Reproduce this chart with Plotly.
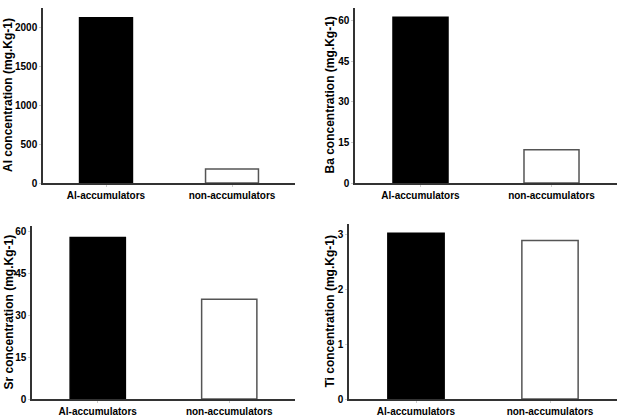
import plotly.graph_objects as go
from plotly.subplots import make_subplots

categories = ["Al-accumulators", "non-accumulators"]
al_values = [2120, 180]
ba_values = [61.4, 12.3]
sr_values = [57.7, 35.6]
ti_values = [3.02, 2.89]

panels = [
    ("Al", al_values, 2245, 500),
    ("Ba", ba_values, 64.8, 15),
    ("Sr", sr_values, 61.8, 15),
    ("Ti", ti_values, 3.19, 1),
]

W, H = 624, 416
# pixel boxes: (left, right, top, bottom)
boxes = [(43, 295, 8, 183), (355, 617, 8, 183), (32, 295, 226, 399), (349, 617, 224, 399)]
title_x = [7.5, 329, 8, 329]

fig = make_subplots(rows=2, cols=2)
font_family = "Liberation Sans, Arial, sans-serif"

for i, (elem, vals, ymax, dt) in enumerate(panels):
    r, c = i // 2 + 1, i % 2 + 1
    fig.add_trace(
        go.Bar(
            x=categories, y=vals, width=0.42,
            marker=dict(color=["black", "white"],
                        line=dict(color=["black", "#555555"], width=1.5)),
            showlegend=False,
        ),
        row=r, col=c,
    )
    l, rr, t, b = boxes[i]
    sfx = "" if i == 0 else str(i + 1)
    fig.layout["xaxis" + sfx].update(
        domain=[l / W, rr / W], range=[-0.5, 1.5], automargin=False,
        showline=True, linecolor="#333333", linewidth=1.5,
        ticks="outside", ticklen=2, tickcolor="#cccccc",
        tickfont=dict(family=font_family, size=10, color="black", weight="bold"),
        showgrid=False, zeroline=False, fixedrange=True,
    )
    fig.layout["yaxis" + sfx].update(
        domain=[1 - b / H, 1 - t / H], range=[0, ymax], dtick=dt, tick0=0,
        automargin=False,
        showline=True, linecolor="#333333", linewidth=1.5,
        ticks="outside", ticklen=2, tickcolor="#cccccc",
        tickfont=dict(family=font_family, size=10, color="black", weight="bold"),
        showgrid=False, zeroline=False, fixedrange=True,
    )
    fig.add_annotation(
        text=f"{elem} concentration (mg.Kg-1)",
        xref="paper", yref="paper",
        x=title_x[i] / W, y=1 - (t + b) / 2 / H,
        xanchor="center", yanchor="middle", textangle=-90, showarrow=False,
        font=dict(family=font_family, size=12, color="black", weight="bold"),
    )

fig.update_layout(
    width=W, height=H, margin=dict(l=0, r=0, t=0, b=0),
    paper_bgcolor="white", plot_bgcolor="white", bargap=0.5,
)

fig.write_html("out.html")
